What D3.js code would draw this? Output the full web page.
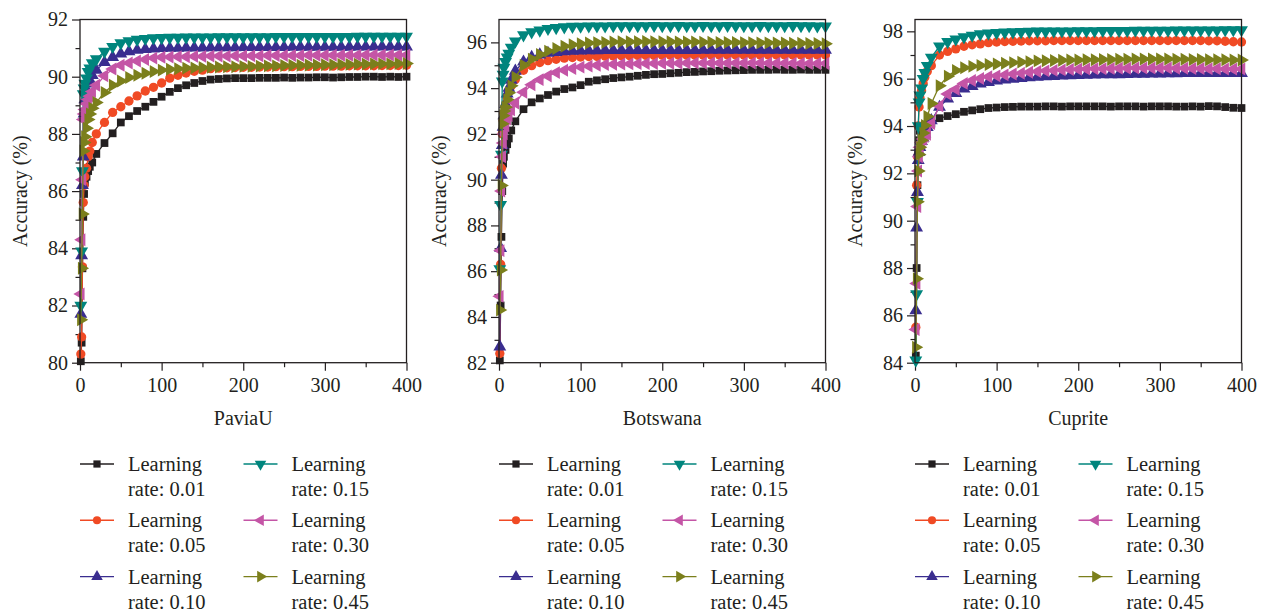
<!DOCTYPE html>
<html><head><meta charset="utf-8">
<script src="https://cdn.jsdelivr.net/npm/d3@7/dist/d3.min.js"></script>
<style>body{margin:0;background:#fff}svg{display:block}</style>
</head><body>
<svg id="c" width="1269" height="612"></svg>
<script>
// ---------- data ----------
const epochs = [1,2,3,4,5,6,8,10,12,15,20,30,40,50,60,70,80,90,100,110,120,130,140,150,160,170,180,190,200,210,220,230,240,250,260,270,280,290,300,310,320,330,340,350,360,370,380,390,400];
const rateLabels = ["0.01","0.05","0.10","0.15","0.30","0.45"];
const datasetNames = ["PaviaU","Botswana","Cuprite"];
const xTickValues = [0,100,200,300,400];
const paviaYTicks = [80,82,84,86,88,90,92];
const botswanaYTicks = [82,84,86,88,90,92,94,96];
const cupriteYTicks = [84,86,88,90,92,94,96,98];
const paviaYRange = [80,92];
const botswanaYRange = [82,97];
const cupriteYRange = [84,98.5];

const paviaU_001 = [80.05,80.7,83.3,85.1,85.9,86.3,86.5,86.7,86.85,87.0, 87.3,87.68,88.02,88.4,88.62,88.8,88.95,89.12,89.3, 89.47,89.6,89.7,89.78,89.85,89.9,89.92,89.94,89.95,89.95, 89.95,89.96,89.96,89.96,89.97,89.96,89.97,89.97,89.98,89.98, 89.97,89.98,89.99,89.99,90.0,90.0,89.99,90.0,89.99,90.0];
const paviaU_005 = [80.3,80.9,83.35,85.6,86.2,86.5,86.8,87.2,87.4,87.7, 88.0,88.4,88.75,88.95,89.15,89.33,89.5,89.63,89.78, 89.95,90.05,90.13,90.19,90.23,90.28,90.3,90.31,90.32,90.33, 90.33,90.34,90.34,90.35,90.35,90.35,90.36,90.36,90.36,90.37, 90.37,90.37,90.38,90.38,90.38,90.38,90.39,90.39,90.39,90.4];
const paviaU_010 = [81.7,83.75,86.2,87.2,88.7,89.2,89.55,89.75,89.88,90.05, 90.23,90.5,90.68,90.8,90.88,90.93,90.96,90.98,90.99, 91.0,91.0,91.01,91.01,91.01,91.02,91.02,91.02,91.02,91.03, 91.03,91.03,91.03,91.03,91.03,91.04,91.04,91.04,91.04,91.04, 91.04,91.04,91.04,91.05,91.05,91.05,91.05,91.05,91.05,91.05];
const paviaU_015 = [82.0,83.9,86.7,89.4,89.6,89.76,89.95,90.17,90.3,90.48, 90.62,90.88,91.05,91.18,91.25,91.3,91.33,91.35,91.36, 91.37,91.37,91.38,91.38,91.38,91.38,91.39,91.39,91.39,91.39, 91.39,91.39,91.39,91.4,91.4,91.4,91.4,91.4,91.4,91.4, 91.4,91.4,91.4,91.41,91.41,91.41,91.41,91.41,91.41,91.41];
const paviaU_030 = [82.4,84.3,86.4,88.5,88.7,88.85,89.05,89.2,89.32,89.48, 89.7,90.03,90.27,90.4,90.48,90.55,90.6,90.65,90.68, 90.69,90.7,90.7,90.71,90.71,90.72,90.72,90.72,90.73,90.73, 90.73,90.73,90.74,90.74,90.74,90.74,90.74,90.75,90.75,90.75, 90.75,90.75,90.75,90.75,90.76,90.76,90.76,90.76,90.76,90.76];
const paviaU_045 = [81.5,83.3,85.2,87.4,87.7,87.9,88.2,88.5,88.7,88.9, 89.1,89.45,89.7,89.85,89.97,90.05,90.12,90.18,90.23, 90.26,90.28,90.3,90.31,90.32,90.33,90.34,90.35,90.35,90.36, 90.36,90.37,90.38,90.38,90.39,90.4,90.4,90.41,90.41,90.42, 90.42,90.43,90.43,90.44,90.44,90.45,90.45,90.45,90.46,90.46];

const botswana_001 = [82.1,84.5,87.5,89.5,90.7,91.0,91.3,91.55,91.8,92.15, 92.55,93.08,93.38,93.55,93.7,93.85,93.96,94.03,94.13, 94.28,94.34,94.39,94.44,94.47,94.5,94.54,94.58,94.61,94.62, 94.65,94.67,94.7,94.71,94.73,94.74,94.76,94.77,94.78,94.79, 94.8,94.8,94.8,94.81,94.8,94.8,94.81,94.8,94.8,94.8];
const botswana_005 = [82.4,86.3,90.5,92.0,92.6,92.9,93.3,93.6,93.85,94.1, 94.38,94.78,94.98,95.12,95.2,95.26,95.31,95.34,95.36, 95.38,95.39,95.4,95.41,95.42,95.42,95.43,95.43,95.43,95.44, 95.44,95.44,95.44,95.44,95.45,95.45,95.45,95.45,95.45,95.45, 95.45,95.45,95.45,95.45,95.45,95.45,95.45,95.45,95.45,95.45];
const botswana_010 = [82.7,87.0,90.2,91.5,92.3,92.8,93.3,93.75,94.0,94.35, 94.75,95.15,95.35,95.46,95.53,95.57,95.6,95.62,95.63, 95.64,95.64,95.65,95.65,95.65,95.65,95.66,95.66,95.66,95.66, 95.66,95.66,95.66,95.66,95.67,95.67,95.67,95.67,95.67,95.67, 95.67,95.67,95.67,95.67,95.67,95.67,95.67,95.67,95.67,95.67];
const botswana_015 = [86.1,88.9,91.1,94.3,94.6,94.9,95.15,95.35,95.52,95.78, 96.05,96.32,96.45,96.53,96.6,96.64,96.67,96.69,96.7, 96.71,96.71,96.71,96.72,96.72,96.72,96.72,96.72,96.73,96.72, 96.72,96.73,96.72,96.72,96.73,96.72,96.72,96.73,96.72,96.72, 96.72,96.73,96.72,96.72,96.72,96.73,96.72,96.72,96.71,96.71];
const botswana_030 = [84.9,86.9,89.5,91.0,91.6,92.0,92.35,92.65,92.8,93.05, 93.35,93.82,94.15,94.37,94.53,94.68,94.78,94.86,94.92, 94.96,95.0,95.03,95.04,95.05,95.06,95.07,95.08,95.08,95.09, 95.09,95.09,95.1,95.1,95.1,95.1,95.1,95.1,95.1,95.1, 95.1,95.1,95.09,95.09,95.09,95.09,95.08,95.08,95.08,95.08];
const botswana_045 = [84.3,86.05,89.75,92.44,92.8,93.0,93.17,93.5,93.8,94.1, 94.48,95.0,95.27,95.47,95.62,95.73,95.83,95.9,95.94, 95.97,95.99,96.0,96.02,96.03,96.03,96.03,96.04,96.03,96.03, 96.03,96.02,96.02,96.02,96.01,96.01,96.0,96.0,96.0,95.99, 95.99,95.98,95.98,95.97,95.97,95.96,95.96,95.95,95.95,95.94];

const cuprite_001 = [84.3,88.0,91.5,92.8,93.4,93.8,93.95,94.0,94.03,94.05, 94.1,94.33,94.42,94.5,94.6,94.66,94.71,94.76,94.78, 94.8,94.81,94.82,94.82,94.82,94.83,94.83,94.82,94.83,94.83, 94.83,94.83,94.83,94.82,94.83,94.83,94.83,94.82,94.83,94.83, 94.83,94.82,94.82,94.83,94.82,94.84,94.83,94.8,94.77,94.76];
const cuprite_005 = [85.5,91.5,92.7,94.0,94.8,95.2,95.5,95.8,96.06,96.3, 96.55,97.0,97.15,97.26,97.37,97.43,97.47,97.52,97.55, 97.57,97.58,97.59,97.6,97.6,97.6,97.61,97.61,97.61,97.61, 97.61,97.61,97.61,97.61,97.61,97.61,97.61,97.61,97.61,97.61, 97.61,97.61,97.61,97.61,97.61,97.6,97.6,97.58,97.56,97.55];
const cuprite_010 = [86.2,89.7,91.2,92.55,92.9,93.1,93.35,93.5,93.67,93.95, 94.23,94.8,95.15,95.38,95.57,95.68,95.78,95.85,95.91, 95.95,95.99,96.02,96.05,96.07,96.09,96.1,96.12,96.13,96.14, 96.15,96.16,96.17,96.17,96.18,96.19,96.2,96.2,96.21,96.21, 96.22,96.22,96.23,96.23,96.23,96.23,96.23,96.23,96.23,96.23];
const cuprite_015 = [84.1,86.9,90.8,94.0,95.0,95.3,95.6,96.0,96.25,96.55, 96.9,97.37,97.56,97.67,97.76,97.83,97.89,97.92,97.94, 97.96,97.97,97.98,97.99,98.0,98.0,98.01,98.01,98.01,98.02, 98.02,98.02,98.03,98.03,98.03,98.03,98.04,98.04,98.04,98.04, 98.04,98.05,98.05,98.05,98.05,98.05,98.05,98.06,98.06,98.06];
const cuprite_030 = [85.4,87.35,90.6,92.1,92.7,93.1,93.3,93.45,93.55,93.65, 94.1,94.85,95.35,95.55,95.8,95.92,96.01,96.08,96.12, 96.16,96.2,96.23,96.27,96.3,96.33,96.35,96.37,96.39,96.4, 96.41,96.42,96.42,96.43,96.44,96.44,96.45,96.45,96.45,96.45, 96.45,96.44,96.44,96.43,96.43,96.42,96.42,96.41,96.41,96.41];
const cuprite_045 = [84.65,87.55,90.8,92.1,92.8,93.1,93.4,93.7,94.02,94.4, 94.95,95.7,96.1,96.35,96.46,96.52,96.56,96.6,96.62, 96.65,96.68,96.7,96.72,96.75,96.76,96.77,96.78,96.79,96.79, 96.8,96.8,96.81,96.81,96.82,96.82,96.83,96.83,96.83,96.83, 96.83,96.82,96.82,96.81,96.81,96.8,96.8,96.8,96.79,96.79];

// ---------- styles ----------
const colors = ["#231f20","#f04a24","#3a2d8f","#00857d","#c455a6","#7b7f1c"];
const symbolDefs = [
  {type:d3.symbolSquare, rot:0, size:60, legSize:52},
  {type:d3.symbolCircle, rot:0, size:68, legSize:52},
  {type:d3.symbolTriangle, rot:0, size:72, legSize:58},
  {type:d3.symbolTriangle, rot:180, size:72, legSize:58},
  {type:d3.symbolTriangle, rot:-90, size:72, legSize:58},
  {type:d3.symbolTriangle, rot:90, size:72, legSize:58}
];
const FONT = "'Liberation Serif','Times New Roman',serif";
const INK = "#231f20";

const panels = [
  {name:datasetNames[0], yr:paviaYRange, yt:paviaYTicks, series:[paviaU_001,paviaU_005,paviaU_010,paviaU_015,paviaU_030,paviaU_045], left:80},
  {name:datasetNames[1], yr:botswanaYRange, yt:botswanaYTicks, series:[botswana_001,botswana_005,botswana_010,botswana_015,botswana_030,botswana_045], left:499},
  {name:datasetNames[2], yr:cupriteYRange, yt:cupriteYTicks, series:[cuprite_001,cuprite_005,cuprite_010,cuprite_015,cuprite_030,cuprite_045], left:915}
];
const W = 326.5, TOP = 19.5, BOTTOM = 362.7;

const svg = d3.select("#c");

panels.forEach(p => {
  const g = svg.append("g").attr("transform", `translate(${p.left},0)`);
  const x = d3.scaleLinear().domain([0,400]).range([0,W]);
  const y = d3.scaleLinear().domain(p.yr).range([BOTTOM,TOP]);

  // minor ticks
  const yMinor = d3.range(p.yr[0]+1, p.yr[1], 2);
  const xMinor = [50,150,250,350];
  g.append("g").call(d3.axisLeft(y).tickValues(yMinor).tickSize(4.5).tickFormat("").tickSizeOuter(0))
    .call(a=>a.select(".domain").remove())
    .call(a=>a.selectAll("line").attr("stroke",INK).attr("stroke-width",1.2));
  g.append("g").attr("transform",`translate(0,${BOTTOM})`)
    .call(d3.axisBottom(x).tickValues(xMinor).tickSize(4.5).tickFormat("").tickSizeOuter(0))
    .call(a=>a.select(".domain").remove())
    .call(a=>a.selectAll("line").attr("stroke",INK).attr("stroke-width",1.2));

  // major
  g.append("g").call(d3.axisLeft(y).tickValues(p.yt).tickSize(8).tickPadding(4).tickSizeOuter(0))
    .call(a=>a.select(".domain").remove())
    .call(a=>a.selectAll("line").attr("stroke",INK).attr("stroke-width",1.2))
    .call(a=>a.selectAll("text").attr("font-family",FONT).attr("font-size",20).attr("fill",INK));
  g.append("g").attr("transform",`translate(0,${BOTTOM})`)
    .call(d3.axisBottom(x).tickValues(xTickValues).tickSize(8).tickPadding(7).tickSizeOuter(0))
    .call(a=>a.select(".domain").remove())
    .call(a=>a.selectAll("line").attr("stroke",INK).attr("stroke-width",1.2))
    .call(a=>a.selectAll("text").attr("font-family",FONT).attr("font-size",20).attr("fill",INK));

  // series
  p.series.forEach((vals,i) => {
    const pts = epochs.map((e,k)=>[e,vals[k]]);
    g.append("path").datum(pts)
      .attr("fill","none").attr("stroke",colors[i]).attr("stroke-width",1.3)
      .attr("d", d3.line().x(d=>x(d[0])).y(d=>y(d[1])));
    const sym = d3.symbol().type(symbolDefs[i].type).size(symbolDefs[i].size);
    g.append("g").selectAll("path").data(pts).join("path")
      .attr("d", sym)
      .attr("fill", colors[i])
      .attr("transform", d=>`translate(${x(d[0])},${y(d[1])}) rotate(${symbolDefs[i].rot})`);
  });

  // frame
  g.append("rect").attr("x",0).attr("y",TOP).attr("width",W).attr("height",BOTTOM-TOP)
    .attr("fill","none").attr("stroke",INK).attr("stroke-width",1.3);

  // labels
  g.append("text").attr("x",W/2).attr("y",425).attr("text-anchor","middle")
    .attr("font-family",FONT).attr("font-size",20).attr("fill",INK).text(p.name);
  g.append("text").attr("transform",`translate(-53,${(TOP+BOTTOM)/2}) rotate(-90)`)
    .attr("text-anchor","middle").attr("font-family",FONT).attr("font-size",20).attr("fill",INK)
    .text("Accuracy (%)");

  // legend
  const order = [0,3,1,4,2,5];
  order.forEach((si,k) => {
    const col = k % 2, row = Math.floor(k/2);
    const lx = col*163.5, ly = 464 + row*56.3;
    const lg = g.append("g").attr("transform",`translate(${lx},${ly})`);
    lg.append("line").attr("x1",0).attr("x2",34).attr("y1",0).attr("y2",0)
      .attr("stroke",colors[si]).attr("stroke-width",1.4);
    lg.append("path").attr("d", d3.symbol().type(symbolDefs[si].type).size(symbolDefs[si].legSize)())
      .attr("fill",colors[si]).attr("transform",`translate(17,0) rotate(${symbolDefs[si].rot})`);
    lg.append("text").attr("x",48).attr("y",7).attr("font-family",FONT).attr("font-size",20.5).attr("fill",INK).text("Learning");
    lg.append("text").attr("x",48).attr("y",32).attr("font-family",FONT).attr("font-size",20.5).attr("fill",INK).text("rate: " + rateLabels[si]);
  });
});
</script>
</body></html>
